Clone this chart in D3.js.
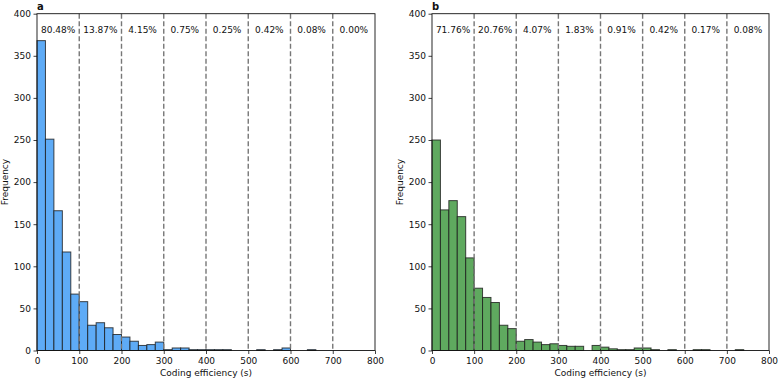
<!DOCTYPE html>
<html>
<head>
<meta charset="utf-8">
<script src="https://cdn.jsdelivr.net/npm/d3@7"></script>
<style>
  body { margin: 0; background: #fff; }
  svg { font-family: "DejaVu Sans", sans-serif; }
</style>
</head>
<body>
<svg id="chart" width="778" height="380"></svg>
<script>
// histogram counts, bins of 20 s from 0 to 800
const countsA = [368, 251, 166, 117, 67,
                 58, 30, 33, 27, 19,
                 16, 11, 6, 7, 10,
                 1, 3, 3, 1, 1,
                 1, 1, 1, 0, 0,
                 0, 1, 0, 1, 3,
                 0, 0, 1, 0, 0,
                 0, 0, 0, 0, 0];
const countsB = [250, 167, 178, 159, 110,
                 74, 63, 57, 30, 26,
                 11, 13, 10, 7, 8,
                 6, 5, 5, 0, 6,
                 4, 2, 1, 1, 3,
                 3, 1, 0, 1, 0,
                 0, 1, 1, 0, 0,
                 0, 1, 0, 0, 0];
const pctA = ["80.48%", "13.87%", "4.15%", "0.75%", "0.25%", "0.42%", "0.08%", "0.00%"];
const pctB = ["71.76%", "20.76%", "4.07%", "1.83%", "0.91%", "0.42%", "0.17%", "0.08%"];
const xTicks = [0, 100, 200, 300, 400, 500, 600, 700, 800];
const yTicks = [0, 50, 100, 150, 200, 250, 300, 350, 400];
const binWidth = 20;

const svg = d3.select("#chart");
const plotTop = 13.7, plotBottom = 350.5;

function drawPanel(counts, pcts, label, left, right, fill) {
    const x = d3.scaleLinear().domain([0, 800]).range([left, right]);
    const y = d3.scaleLinear().domain([0, 400]).range([plotBottom, plotTop]);
    const g = svg.append("g");

    // bars
    g.selectAll("rect.bar")
        .data(counts.map((c, i) => ({x0: i * binWidth, c: c})).filter(d => d.c > 0))
        .enter().append("rect")
        .attr("class", "bar")
        .attr("x", d => x(d.x0))
        .attr("width", d => x(d.x0 + binWidth) - x(d.x0))
        .attr("y", d => y(d.c))
        .attr("height", d => y(0) - y(d.c))
        .attr("fill", fill)
        .attr("stroke", "#1a1a1a")
        .attr("stroke-opacity", 0.8)
        .attr("stroke-width", 1);

    // dashed separators
    g.selectAll("line.sep")
        .data(xTicks.slice(1, -1))
        .enter().append("line")
        .attr("x1", d => x(d)).attr("x2", d => x(d))
        .attr("y1", plotTop).attr("y2", plotBottom)
        .attr("stroke", "#777")
        .attr("stroke-width", 1.4)
        .attr("stroke-dasharray", "5,2.5");

    // percentages
    g.selectAll("text.pct")
        .data(pcts)
        .enter().append("text")
        .attr("x", (d, i) => x(i * 100 + 50))
        .attr("y", 33)
        .attr("text-anchor", "middle")
        .attr("font-size", "9px")
        .attr("fill", "#111")
        .text(d => d);

    // axes
    const xAxis = g.append("g")
        .attr("transform", `translate(0,${plotBottom})`)
        .call(d3.axisBottom(x).tickValues(xTicks).tickSize(3.5).tickPadding(3.5));
    const yAxis = g.append("g")
        .attr("transform", `translate(${left},0)`)
        .call(d3.axisLeft(y).tickValues(yTicks).tickSize(3.5).tickPadding(2.5));
    [xAxis, yAxis].forEach(a => {
        a.select(".domain").remove();
        a.selectAll("text").attr("font-size", "9px").attr("fill", "#111").attr("font-family", "DejaVu Sans");
        a.selectAll("line").attr("stroke", "#111").attr("stroke-width", 0.8);
    });

    // frame
    g.append("rect")
        .attr("x", left).attr("y", plotTop)
        .attr("width", right - left).attr("height", plotBottom - plotTop)
        .attr("fill", "none")
        .attr("stroke", "#111")
        .attr("stroke-width", 0.9);

    // labels
    g.append("text")
        .attr("x", (left + right) / 2)
        .attr("y", 376)
        .attr("text-anchor", "middle")
        .attr("font-size", "9px")
        .attr("fill", "#111")
        .text("Coding efficiency (s)");
    g.append("text")
        .attr("transform", `translate(${left - 29},${(plotTop + plotBottom) / 2}) rotate(-90)`)
        .attr("text-anchor", "middle")
        .attr("font-size", "9px")
        .attr("fill", "#111")
        .text("Frequency");
    g.append("text")
        .attr("x", left)
        .attr("y", 10)
        .attr("font-size", "10px")
        .attr("font-weight", "bold")
        .attr("fill", "#111")
        .text(label);
}

drawPanel(countsA, pctA, "a", 37, 375, "#5eabf6");
drawPanel(countsB, pctB, "b", 432, 769, "#5fa95f");
</script>
</body>
</html>
